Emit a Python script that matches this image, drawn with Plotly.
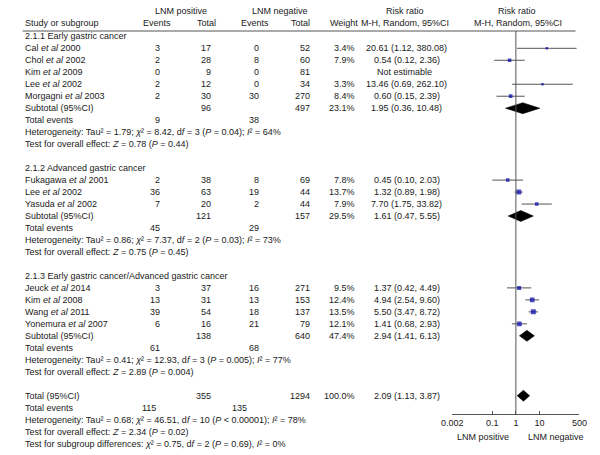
import plotly.graph_objects as go

# ---------------- data ----------------
group_titles = ["2.1.1 Early gastric cancer",
                "2.1.2 Advanced gastric cancer",
                "2.1.3 Early gastric cancer/Advanced gastric cancer"]

authors = [["Cal", "Chol", "Kim", "Lee", "Morgagni"],
           ["Fukagawa", "Lee", "Yasuda"],
           ["Jeuck", "Kim", "Wang", "Yonemura"]]
years = [[2000, 2002, 2009, 2002, 2003],
         [2001, 2002, 2002],
         [2014, 2008, 2011, 2007]]
ev_pos = [[3, 2, 0, 2, 2], [2, 36, 7], [3, 13, 39, 6]]
tot_pos = [[17, 28, 9, 12, 30], [38, 63, 20], [37, 31, 54, 16]]
ev_neg = [[0, 8, 0, 0, 30], [8, 19, 2], [16, 13, 18, 21]]
tot_neg = [[52, 60, 81, 34, 270], [69, 44, 44], [271, 153, 137, 79]]
weights = [[3.4, 7.9, None, 3.3, 8.4], [7.8, 13.7, 7.9], [9.5, 12.4, 13.5, 12.1]]
rr = [[20.61, 0.54, None, 13.46, 0.60], [0.45, 1.32, 7.70], [1.37, 4.94, 5.50, 1.41]]
rr_lo = [[1.12, 0.12, None, 0.69, 0.15], [0.10, 0.89, 1.75], [0.42, 2.54, 3.47, 0.68]]
rr_hi = [[380.08, 2.36, None, 262.10, 2.39], [2.03, 1.98, 33.82], [4.49, 9.60, 8.72, 2.93]]

sub_tot_pos = [96, 121, 138]
sub_tot_neg = [497, 157, 640]
sub_weight = [23.1, 29.5, 47.4]
sub_rr = [1.95, 1.61, 2.94]
sub_lo = [0.36, 0.47, 1.41]
sub_hi = [10.48, 5.55, 6.13]
sub_ev_pos = [9, 45, 61]
sub_ev_neg = [38, 29, 68]
sub_het = ["Heterogeneity: Tau² = 1.79; <i>χ</i>² = 8.42, d<i>f</i> = 3 (<i>P</i> = 0.04); <i>I</i>² = 64%",
           "Heterogeneity: Tau² = 0.86; <i>χ</i>² = 7.37, d<i>f</i> = 2 (<i>P</i> = 0.03); <i>I</i>² = 73%",
           "Heterogeneity: Tau² = 0.41; <i>χ</i>² = 12.93, d<i>f</i> = 3 (<i>P</i> = 0.005); <i>I</i>² = 77%"]
sub_test = ["Test for overall effect: <i>Z</i> = 0.78 (<i>P</i> = 0.44)",
            "Test for overall effect: <i>Z</i> = 0.75 (<i>P</i> = 0.45)",
            "Test for overall effect: <i>Z</i> = 2.89 (<i>P</i> = 0.004)"]

total_pos = 355
total_neg = 1294
total_weight = 100.0
total_rr = 2.09
total_lo = 1.13
total_hi = 3.87
total_ev_pos = 115
total_ev_neg = 135
total_notes = ["Heterogeneity: Tau² = 0.68; <i>χ</i>² = 46.51, d<i>f</i> = 10 (<i>P</i> < 0.00001); <i>I</i>² = 78%",
               "Test for overall effect: <i>Z</i> = 2.34 (<i>P</i> = 0.02)",
               "Test for subgroup differences: <i>χ</i>² = 0.75, d<i>f</i> = 2 (<i>P</i> = 0.69), <i>I</i>² = 0%"]

tick_vals = [0.002, 0.1, 1, 10, 500]
tick_text = ["0.002", "0.1", "1", "10", "500"]
favours = ["LNM positive", "LNM negative"]

# ---------------- layout helpers ----------------
W, H = 600, 455
ROW0, STEP = 48.3, 11.98          # pixel of first study row, row pitch
def prow(px):                      # pixel -> row coordinate
    return (px - ROW0) / STEP

FONT = "Liberation Sans"
FS = 9
TXT = "#1a1a1a"
LINE = "#555555"

fig = go.Figure()
ann = []

def text(x, r, s, anchor="left"):
    ann.append(dict(x=x, y=r, xref="x2", yref="y2", text=s, showarrow=False,
                    xanchor=anchor, yanchor="middle",
                    font=dict(family=FONT, size=FS, color=TXT)))

# headers
hr1, hr2 = prow(11), prow(23)
text(175, hr1, "LNM positive", "center")
text(277, hr1, "LNM negative", "center")
text(406, hr1, "Risk ratio", "center")
text(522, hr1, "Risk ratio", "center")
text(12, hr2, "Study or subgroup")
text(151, hr2, "Events", "center")
text(202, hr2, "Total", "center")
text(252, hr2, "Events", "center")
text(298, hr2, "Total", "center")
text(343, hr2, "Weight", "center")
text(406, hr2, "M-H, Random, 95%CI", "center")
text(523, hr2, "M-H, Random, 95%CI", "center")

ci_x, ci_y = [], []
sq_x, sq_y, sq_s = [], [], []
diamonds = []

def rrtxt(e, l, h):
    return f"{e:.2f} ({l:.2f}, {h:.2f})"

r = -1
for g in range(len(group_titles)):
    text(12, r, group_titles[g]); r += 1
    for i in range(len(authors[g])):
        text(12, r, f"{authors[g][i]} <i>et al</i> {years[g][i]}")
        text(156, r, str(ev_pos[g][i]), "right")
        text(208, r, str(tot_pos[g][i]), "right")
        text(258, r, str(ev_neg[g][i]), "right")
        text(310, r, str(tot_neg[g][i]), "right")
        if weights[g][i] is None:
            text(406, r, "Not estimable", "center")
        else:
            text(357, r, f"{weights[g][i]:.1f}%", "right")
            text(408, r, rrtxt(rr[g][i], rr_lo[g][i], rr_hi[g][i]), "center")
            ci_x += [rr_lo[g][i], rr_hi[g][i], None]
            ci_y += [r, r, None]
            sq_x.append(rr[g][i]); sq_y.append(r)
            sq_s.append(1.6 + 0.25 * weights[g][i])
        r += 1
    text(12, r, "Subtotal (95%CI)")
    text(208, r, str(sub_tot_pos[g]), "right")
    text(310, r, str(sub_tot_neg[g]), "right")
    text(357, r, f"{sub_weight[g]:.1f}%", "right")
    text(408, r, rrtxt(sub_rr[g], sub_lo[g], sub_hi[g]), "center")
    diamonds.append((sub_rr[g], sub_lo[g], sub_hi[g], r)); r += 1
    text(12, r, "Total events")
    text(156, r, str(sub_ev_pos[g]), "right")
    text(258, r, str(sub_ev_neg[g]), "right"); r += 1
    text(12, r, sub_het[g]); r += 1
    text(12, r, sub_test[g]); r += 2

text(12, r, "Total (95%CI)")
text(208, r, str(total_pos), "right")
text(310, r, str(total_neg), "right")
text(357, r, f"{total_weight:.1f}%", "right")
text(408, r, rrtxt(total_rr, total_lo, total_hi), "center")
diamonds.append((total_rr, total_lo, total_hi, r)); r += 1
text(12, r, "Total events")
text(152, r, str(total_ev_pos), "right")
text(245, r, str(total_ev_neg), "right"); r += 1
for note in total_notes:
    text(12, r, note); r += 1

# favours labels
text(487, prow(437), favours[0], "center")
text(562, prow(437), favours[1], "center")

# ---------------- marks ----------------
fig.add_trace(go.Scatter(x=ci_x, y=ci_y, mode="lines", xaxis="x", yaxis="y",
                         line=dict(color=LINE, width=1), hoverinfo="skip", showlegend=False))
fig.add_trace(go.Scatter(x=sq_x, y=sq_y, mode="markers", xaxis="x", yaxis="y",
                         marker=dict(symbol="square", size=sq_s, color="#0000aa",
                                     line=dict(width=0)),
                         showlegend=False))
DH = 0.46
for est, lo, hi, rr_row in diamonds:
    fig.add_trace(go.Scatter(x=[lo, est, hi, est, lo],
                             y=[rr_row, rr_row - DH, rr_row, rr_row + DH, rr_row],
                             mode="lines", fill="toself", fillcolor="black",
                             line=dict(color="black", width=0.5),
                             xaxis="x", yaxis="y", showlegend=False, hoverinfo="skip"))

# ---------------- axes ----------------
y_bot_px, y_top_px = 414, 31
fig.update_layout(
    width=W, height=H, margin=dict(l=0, r=0, t=0, b=0),
    paper_bgcolor="white", plot_bgcolor="rgba(0,0,0,0)",
    showlegend=False,
    xaxis=dict(type="log", range=[-2.7, 2.7], domain=[455 / W, 586 / W], anchor="y",
               tickvals=tick_vals, ticktext=tick_text, ticks="inside", ticklen=3,
               tickcolor=LINE, showline=True, linecolor=LINE, linewidth=1,
               showgrid=False, zeroline=False,
               tickfont=dict(family=FONT, size=FS, color=TXT)),
    yaxis=dict(range=[prow(y_bot_px), prow(y_top_px)],
               domain=[(H - y_bot_px) / H, (H - y_top_px) / H], anchor="x",
               visible=False, showgrid=False, zeroline=False),
    xaxis2=dict(range=[0, W], domain=[0, 1], anchor="y2", visible=False,
                showgrid=False, zeroline=False),
    yaxis2=dict(range=[prow(H), prow(0)], domain=[0, 1], anchor="x2", visible=False,
                showgrid=False, zeroline=False),
    annotations=ann,
    shapes=[
        dict(type="line", xref="x2", yref="y2", x0=12, x1=582, y0=prow(31), y1=prow(31),
             line=dict(color=LINE, width=1)),
        dict(type="line", xref="x", yref="y domain", x0=1, x1=1, y0=0, y1=1,
             line=dict(color=LINE, width=1)),
    ],
)

fig.write_html("out.html", config={"displayModeBar": False},
               post_script="document.body.style.margin='0';document.body.style.overflow='hidden';")
